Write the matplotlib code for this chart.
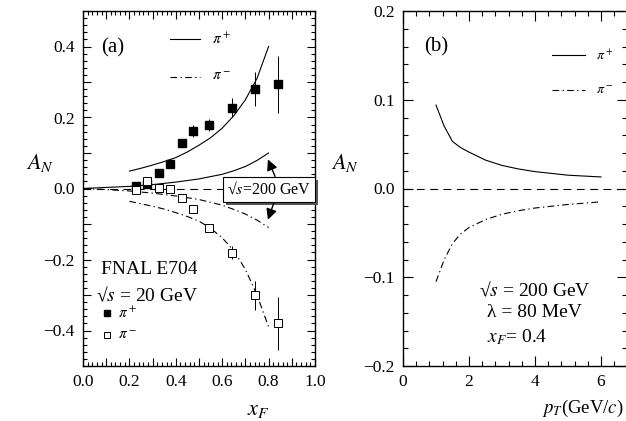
import matplotlib
matplotlib.use("Agg")
import matplotlib.pyplot as plt
from matplotlib.ticker import MultipleLocator, FuncFormatter
from matplotlib.patches import Rectangle
import numpy as np

plt.rcParams['font.family'] = ['Liberation Serif', 'DejaVu Serif']
plt.rcParams['mathtext.fontset'] = 'stix'

# ---- Panel (a) data: FNAL E704, sqrt(s)=20 GeV ----
xf_pip = [0.228, 0.276, 0.326, 0.375, 0.425, 0.474, 0.545, 0.642, 0.741, 0.842]
an_pip = [0.007, 0.013, 0.044, 0.068, 0.129, 0.162, 0.179, 0.228, 0.279, 0.293]
err_pip = [0.008, 0.008, 0.008, 0.010, 0.010, 0.017, 0.017, 0.027, 0.048, 0.080]

xf_pim = [0.228, 0.276, 0.326, 0.375, 0.425, 0.474, 0.543, 0.641, 0.741, 0.842]
an_pim = [-0.005, 0.021, 0.001, -0.001, -0.027, -0.057, -0.111, -0.181, -0.301, -0.380]
err_pim = [0.006, 0.006, 0.006, 0.006, 0.008, 0.010, 0.012, 0.018, 0.040, 0.075]

# theory curves, sqrt(s)=20 GeV
xf_th20 = [0.2, 0.25, 0.3, 0.35, 0.4, 0.45, 0.5, 0.55, 0.6, 0.65, 0.7, 0.75, 0.8]
th20_pip = [0.049, 0.057, 0.066, 0.076, 0.087, 0.103, 0.122, 0.143, 0.170, 0.205, 0.250, 0.310, 0.400]
th20_pim = [-0.036, -0.043, -0.050, -0.058, -0.068, -0.079, -0.092, -0.112, -0.139, -0.175, -0.228, -0.300, -0.390]

# theory curves, sqrt(s)=200 GeV
xf_th200 = [0.0, 0.1, 0.2, 0.3, 0.4, 0.5, 0.6, 0.65, 0.7, 0.75, 0.8]
th200_pip = [0.0, 0.003, 0.006, 0.011, 0.018, 0.027, 0.040, 0.050, 0.062, 0.079, 0.100]
th200_pim = [0.0, -0.003, -0.007, -0.013, -0.021, -0.031, -0.047, -0.059, -0.072, -0.089, -0.110]

# ---- Panel (b) data: sqrt(s)=200 GeV, xF=0.4 ----
pt = [1.0, 1.25, 1.5, 1.75, 2.0, 2.5, 3.0, 3.5, 4.0, 5.0, 6.0]
an_pt_pip = [0.094, 0.070, 0.053, 0.046, 0.041, 0.032, 0.026, 0.022, 0.019, 0.015, 0.013]
an_pt_pim = [-0.105, -0.080, -0.062, -0.051, -0.044, -0.035, -0.029, -0.025, -0.022, -0.018, -0.015]

W, H = 626, 421
fig = plt.figure(figsize=(W / 100, H / 100), dpi=100)

ax1 = fig.add_axes([83 / W, 55 / H, 232 / W, 355 / H])
ax2 = fig.add_axes([403 / W, 55 / H, 224.4 / W, 355 / H])

dashdot = (0, (6, 3, 1.2, 3))
lw = 0.8

def style_axis(ax):
    ax.tick_params(which='both', direction='in', top=True, right=True,
                   labelsize=12.5, width=0.8, pad=6)
    for s in ax.spines.values():
        s.set_linewidth(1.0)

def fmt_num(v):
    s = f"{v:.1f}"
    if s.startswith('-'):
        s = '\u2212' + s[1:]
    if s == '\u22120.0':
        s = '0.0'
    return s

# ---------------- Panel (a) ----------------
ax1.set_xlim(0, 1.0)
ax1.set_ylim(-0.5, 0.5)
ax1.axhline(0, color='black', lw=0.8, dashes=(7, 5))
ax1.plot(xf_th20, th20_pip, color='black', lw=lw)
ax1.plot(xf_th200, th200_pip, color='black', lw=lw)
ax1.plot(xf_th20, th20_pim, color='black', lw=lw, ls=dashdot)
ax1.plot(xf_th200, th200_pim, color='black', lw=lw, ls=dashdot)

ax1.errorbar(xf_pip, an_pip, yerr=err_pip, fmt='s', ms=6, mfc='black', mec='black',
             ecolor='black', elinewidth=0.7, capsize=0, zorder=5)
ax1.errorbar(xf_pim, an_pim, yerr=err_pim, fmt='s', ms=6, mfc='white', mec='black',
             mew=0.7, ecolor='black', elinewidth=0.7, capsize=0, zorder=5)

ax1.xaxis.set_major_locator(MultipleLocator(0.1))
ax1.xaxis.set_minor_locator(MultipleLocator(0.02))
ax1.yaxis.set_major_locator(MultipleLocator(0.1))
ax1.yaxis.set_minor_locator(MultipleLocator(0.02))

def fmt_even(v, pos):
    k = int(round(v * 10))
    if k % 2 != 0:
        return ''
    return fmt_num(v)

ax1.xaxis.set_major_formatter(FuncFormatter(fmt_even))
ax1.yaxis.set_major_formatter(FuncFormatter(fmt_even))
style_axis(ax1)
ax1.tick_params(which='major', length=6)
ax1.tick_params(which='minor', length=3)

ax1.text(0.08, 0.395, '(a)', fontsize=15, va='center', ha='left')
# legend lines (top)
ax1.plot([0.375, 0.505], [0.42, 0.42], color='black', lw=lw)
ax1.plot([0.375, 0.505], [0.315, 0.315], color='black', lw=lw, ls=dashdot)
ax1.text(0.555, 0.42, r'$\pi^+$', fontsize=11, va='center', ha='left')
ax1.text(0.555, 0.315, r'$\pi^-$', fontsize=11, va='center', ha='left')

ax1.text(0.078, -0.228, 'FNAL E704', fontsize=14, va='center', ha='left')
ax1.text(0.058, -0.30, '\u221a$s$ = 20 GeV', fontsize=14, va='center', ha='left')
ax1.plot([0.104], [-0.352], 's', ms=5, mfc='black', mec='black')
ax1.plot([0.104], [-0.414], 's', ms=5, mfc='white', mec='black', mew=0.7)
ax1.text(0.15, -0.352, r'$\pi^+$', fontsize=11, va='center', ha='left')
ax1.text(0.15, -0.414, r'$\pi^-$', fontsize=11, va='center', ha='left')

# sqrt(s)=200 GeV box with shadow and arrows
box_txt = ax1.text(0.80, -0.003, '\u221a$s$=200 GeV', fontsize=11.5, va='center', ha='center',
                   zorder=8,
                   bbox=dict(boxstyle='square,pad=0.25', fc='white', ec='black', lw=0.8))
ax1.annotate('', xy=(0.797, 0.082), xytext=(0.828, 0.034),
             arrowprops=dict(arrowstyle='-|>', color='black', lw=1.0, mutation_scale=16,
                             shrinkA=0, shrinkB=0), zorder=9)
ax1.annotate('', xy=(0.797, -0.088), xytext=(0.823, -0.040),
             arrowprops=dict(arrowstyle='-|>', color='black', lw=1.0, mutation_scale=16,
                             shrinkA=0, shrinkB=0), zorder=9)

ax1.text(-0.185, 0.572, r'$A_N$', fontsize=16, va='center', ha='center', transform=ax1.transAxes)
ax1.text(0.755, -0.125, r'$x_F$', fontsize=16, va='center', ha='center', transform=ax1.transAxes)

# ---------------- Panel (b) ----------------
ax2.set_xlim(0, 6.8)
ax2.set_ylim(-0.2, 0.2)
ax2.axhline(0, color='black', lw=0.8, dashes=(7, 5))
ax2.plot(pt, an_pt_pip, color='black', lw=lw)
ax2.plot(pt, an_pt_pim, color='black', lw=lw, ls=dashdot)
ax2.xaxis.set_major_locator(MultipleLocator(2))
ax2.xaxis.set_minor_locator(MultipleLocator(0.4))
ax2.yaxis.set_major_locator(MultipleLocator(0.1))
ax2.yaxis.set_minor_locator(MultipleLocator(0.02))
ax2.xaxis.set_major_formatter(FuncFormatter(lambda v, p: f"{int(round(v))}"))
ax2.yaxis.set_major_formatter(FuncFormatter(lambda v, p: fmt_num(v)))
style_axis(ax2)
ax2.tick_params(which='major', length=7)
ax2.tick_params(which='minor', length=3.5)

ax2.text(0.65, 0.160, '(b)', fontsize=15, va='center', ha='left')
ax2.plot([4.5, 5.5], [0.150, 0.150], color='black', lw=lw)
ax2.plot([4.5, 5.5], [0.111, 0.111], color='black', lw=lw, ls=dashdot)
ax2.text(5.85, 0.150, r'$\pi^+$', fontsize=10, va='center', ha='left')
ax2.text(5.85, 0.111, r'$\pi^-$', fontsize=10, va='center', ha='left')

ax2.text(2.3, -0.114, '\u221a$s$ = 200 GeV', fontsize=14, va='center', ha='left')
ax2.text(2.55, -0.140, '\u03bb = 80 MeV', fontsize=14, va='center', ha='left')
ax2.text(2.55, -0.167, '$x_F$= 0.4', fontsize=14, va='center', ha='left')

ax2.text(-0.258, 0.572, r'$A_N$', fontsize=16, va='center', ha='center', transform=ax2.transAxes)
fig.text(624 / W, (421 - 408) / H, r'$p_T$(GeV/$c$)', fontsize=13.5, va='center', ha='right')

# shadow for the box (drawn just below the box, inside ax1)
fig.canvas.draw()
r = fig.canvas.get_renderer()
bb = box_txt.get_bbox_patch().get_window_extent(r)
inv = ax1.transAxes.inverted()
(x0, y0), (x1, y1) = inv.transform([[bb.x0 + 3, bb.y0 - 3], [bb.x1 + 3, bb.y1 - 3]])
ax1.add_patch(Rectangle((x0, y0), x1 - x0, y1 - y0, transform=ax1.transAxes,
                        fc='#555555', ec='none', zorder=7, clip_on=False))

fig.savefig('out.png', dpi=100)
